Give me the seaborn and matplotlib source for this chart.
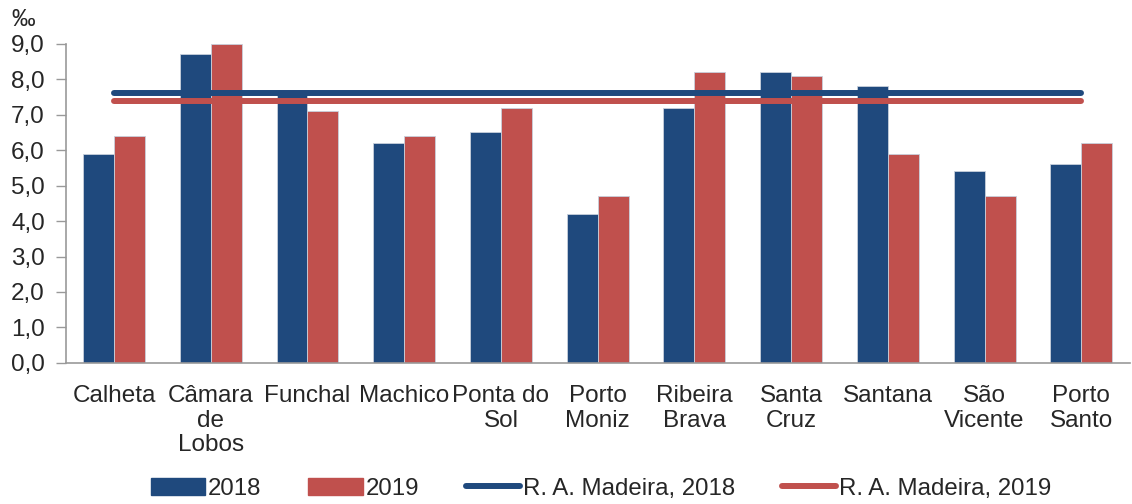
import numpy as np
import pandas as pd
import matplotlib
matplotlib.use("Agg")
from matplotlib import pyplot as plt
from matplotlib.patches import Patch
from matplotlib.lines import Line2D
import seaborn as sns

municipios = ["Calheta", "Câmara\nde\nLobos", "Funchal", "Machico", "Ponta do\nSol",
              "Porto\nMoniz", "Ribeira\nBrava", "Santa\nCruz", "Santana", "São\nVicente",
              "Porto\nSanto"]
taxa_2018 = [5.9, 8.7, 7.7, 6.2, 6.5, 4.2, 7.2, 8.2, 7.8, 5.4, 5.6]
taxa_2019 = [6.4, 9.0, 7.1, 6.4, 7.2, 4.7, 8.2, 8.1, 5.9, 4.7, 6.2]
madeira_2018 = 7.6
madeira_2019 = 7.4

blue = "#1F497D"
red = "#C0504D"

df = pd.DataFrame({
    "municipio": municipios * 2,
    "ano": ["2018"] * len(municipios) + ["2019"] * len(municipios),
    "taxa": taxa_2018 + taxa_2019,
})

sns.set_style("white")
plt.rcParams["font.family"] = ["Liberation Sans", "DejaVu Sans"]

fig = plt.figure(figsize=(11.32, 5.04), dpi=100)
ax = fig.add_axes([0.058, 0.28, 0.94, 0.633])

sns.barplot(data=df, x="municipio", y="taxa", hue="ano", palette=[blue, red],
            saturation=1, width=0.64, gap=0, edgecolor="#c8d0dc", linewidth=0.6,
            ax=ax, legend=False)

pos = np.arange(len(municipios))
ax.plot(pos, [madeira_2018] * len(pos), color=blue, lw=4.3, solid_capstyle="round")
ax.plot(pos, [madeira_2019] * len(pos), color=red, lw=4.3, solid_capstyle="round")

ax.set_xlim(-0.5, len(municipios) - 0.5)
ax.set_ylim(0, 9)
ax.set_yticks(np.arange(0, 10, 1))
ax.set_yticklabels([f"{v:.1f}".replace(".", ",") for v in np.arange(0, 10, 1)])
ax.set_xlabel("")
ax.set_ylabel("")
ax.tick_params(axis="y", labelsize=17.5, length=7, width=1, color="#999999",
               left=True, pad=8)
ax.tick_params(axis="x", labelsize=17.5, length=0, pad=16)
for lab in ax.get_xticklabels():
    lab.set_linespacing(1.15)

for s in ["top", "right"]:
    ax.spines[s].set_visible(False)
for s in ["left", "bottom"]:
    ax.spines[s].set_color("#999999")
    ax.spines[s].set_linewidth(1.2)

fig.text(0.01, 0.96, "‰", fontsize=17, va="center")

handles = [
    Patch(facecolor=blue, edgecolor=blue),
    Patch(facecolor=red, edgecolor=red),
    Line2D([0], [0], color=blue, lw=4.3, solid_capstyle="round"),
    Line2D([0], [0], color=red, lw=4.3, solid_capstyle="round"),
]
labels = ["2018", "2019", "R. A. Madeira, 2018", "R. A. Madeira, 2019"]
fig.legend(handles, labels, loc="lower center", bbox_to_anchor=(0.531, -0.015),
           ncol=4, frameon=False, fontsize=17.3, handlelength=2.25,
           handletextpad=0.12, columnspacing=1.95, borderpad=0)

fig.savefig("out.png", dpi=100)
